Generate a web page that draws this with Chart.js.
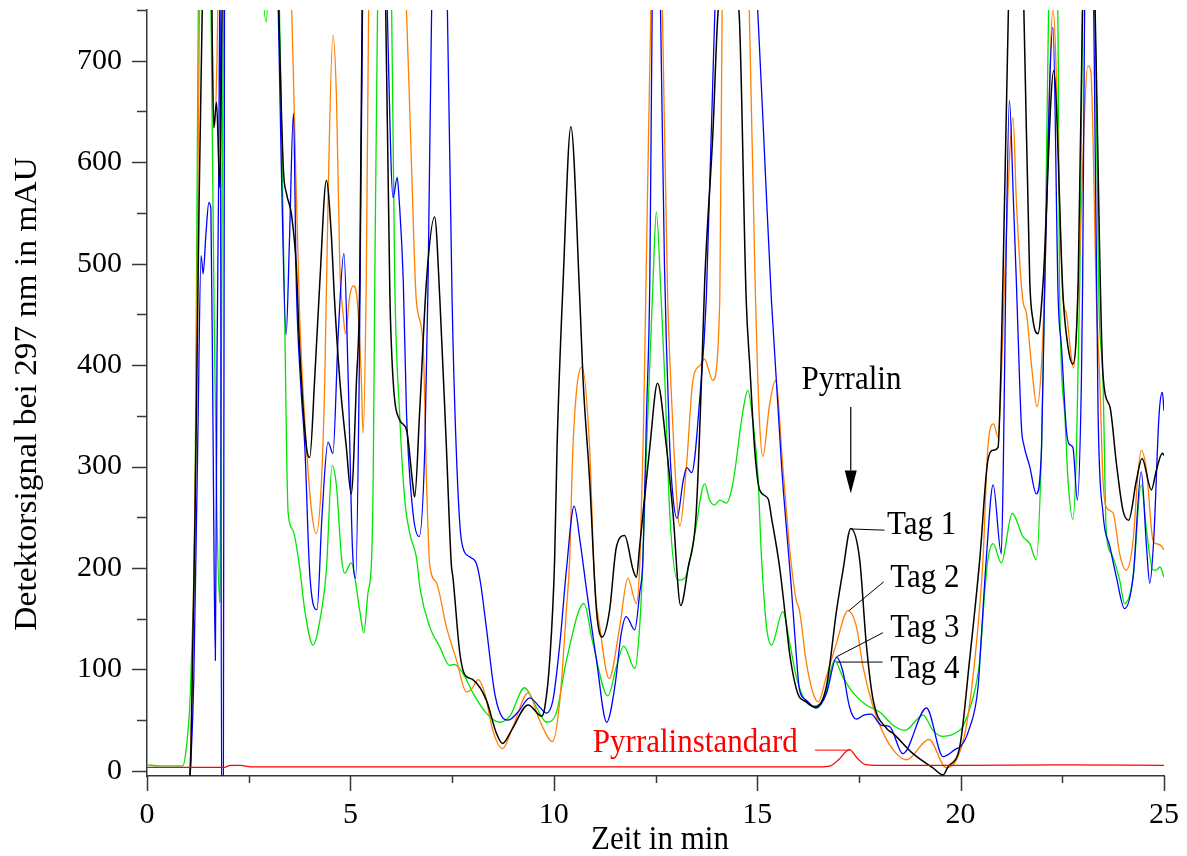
<!DOCTYPE html>
<html lang="de">
<head>
<meta charset="utf-8">
<title>Pyrralin – Chromatogramme</title>
<script src="https://cdn.jsdelivr.net/npm/chart.js@4.4.1/dist/chart.umd.min.js"></script>
<style>
  html, body { margin: 0; padding: 0; background: #fff; }
  #wrap { width: 1187px; height: 856px; }
</style>
</head>
<body>
<div id="wrap"><canvas id="chromChart" width="1187" height="856"></canvas></div>
<script>
// Achsen
const xTicks = [0, 2.5, 5, 7.5, 10, 12.5, 15, 17.5, 20, 22.5, 25];
const yTicks = [0, 50, 100, 150, 200, 250, 300, 350, 400, 450, 500, 550, 600, 650, 700, 750];

// Messreihen: [Zeit in min, Signal in mAU]
const tag1 = [
  [1.00,-40],[1.08,20],[1.18,250],[1.28,560],[1.37,780],[1.48,1000],[1.58,800],[1.64,634],[1.71,659],[1.79,575],
  [1.86,800],[2.3,1500],[3.0,1200],[3.2,820],[3.35,595],[3.43,569],[3.55,549],[3.67,497],[3.75,418],[3.92,319],
  [4.0,309],[4.12,385],[4.25,483],[4.41,582],[4.53,529],[4.61,464],[4.74,385],[4.9,319],[5.02,273],[5.15,385],
  [5.23,483],[5.3,800],[5.55,1200],[5.85,800],[5.97,470],[6.05,385],[6.21,346],[6.38,336],[6.54,280],[6.58,270],
  [6.7,352],[6.87,483],[7.07,546],[7.2,464],[7.36,319],[7.48,204],[7.52,191],[7.69,116],[7.81,95],[8.01,90],
  [8.34,70],[8.59,37],[8.74,27],[8.96,40],[9.37,65],[9.7,54],[9.78,63],[9.9,109],[10.02,208],[10.08,319],
  [10.23,483],[10.42,635],[10.64,464],[10.72,385],[10.88,287],[11.05,158],[11.19,132],[11.37,158],[11.54,221],[11.74,232],
  [11.95,198],[12.03,191],[12.11,221],[12.36,319],[12.55,382],[12.77,319],[12.93,254],[13.12,163],[13.3,200],[13.5,254],
  [13.63,385],[13.71,483],[13.91,628],[14.04,749],[14.3,790],[14.55,750],[14.73,464],[14.82,398],[14.94,316],[15.06,277],
  [15.27,268],[15.35,250],[15.55,201],[15.7,150],[15.8,115],[16.0,76],[16.21,68],[16.41,63],[16.7,83],[16.95,158],
  [17.11,198],[17.3,239],[17.52,208],[17.68,126],[17.85,70],[18.18,42],[18.34,37],[18.83,17],[19.32,3],[19.57,-4],
  [19.69,4],[19.98,24],[20.22,109],[20.47,208],[20.67,306],[20.8,316],[20.92,319],[21.04,483],[21.18,760],[21.35,1000],
  [21.55,760],[21.7,483],[21.78,444],[21.9,431],[22.03,483],[22.29,690],[22.52,467],[22.64,418],[22.76,401],[22.89,483],
  [23.0,760],[23.12,1000],[23.3,760],[23.5,391],[23.67,359],[23.83,303],[23.99,257],[24.13,247],[24.32,286],[24.46,308],
  [24.69,277],[24.81,296],[24.96,313],[25.0,311]
];

const tag2 = [
  [1.00,-40],[1.1,60],[1.2,330],[1.3,800],[1.45,1050],[1.58,760],[1.66,634],[1.72,700],[1.8,900],[2.3,1500],
  [3.0,1300],[3.4,900],[3.55,760],[3.62,650],[3.75,451],[3.92,319],[4.05,255],[4.16,234],[4.29,287],[4.37,385],
  [4.45,562],[4.57,725],[4.66,660],[4.74,497],[4.82,451],[4.88,431],[4.98,467],[5.07,478],[5.16,467],[5.27,385],
  [5.31,333],[5.39,483],[5.45,760],[5.8,1300],[6.2,900],[6.37,760],[6.5,600],[6.62,464],[6.79,418],[6.87,287],
  [6.95,203],[7.11,186],[7.36,142],[7.61,109],[7.85,78],[7.97,80],[8.14,90],[8.3,77],[8.5,40],[8.74,22],
  [9.0,44],[9.37,77],[9.65,50],[9.97,29],[10.15,70],[10.31,159],[10.39,208],[10.47,319],[10.69,398],[10.88,319],
  [11.0,188],[11.13,142],[11.36,91],[11.62,142],[11.82,190],[12.03,165],[12.12,210],[12.2,330],[12.3,560],[12.4,780],
  [12.55,1000],[12.67,750],[12.8,464],[12.88,380],[12.95,319],[13.1,241],[13.26,300],[13.42,385],[13.6,400],[13.7,406],
  [13.91,385],[14.08,464],[14.14,760],[14.45,1200],[14.8,760],[14.95,480],[15.05,350],[15.14,310],[15.3,360],[15.45,385],
  [15.63,300],[15.8,218],[15.96,168],[16.04,158],[16.2,109],[16.37,77],[16.5,68],[16.7,93],[16.95,126],[17.23,158],
  [17.44,142],[17.6,103],[17.85,63],[18.1,37],[18.42,17],[18.67,11],[19.22,31],[19.65,3],[19.9,11],[20.14,44],
  [20.39,126],[20.55,208],[20.67,319],[20.81,342],[20.92,329],[21.0,385],[21.08,483],[21.29,644],[21.37,562],[21.53,464],
  [21.62,451],[21.74,401],[21.88,359],[21.99,401],[22.07,483],[22.27,750],[22.52,464],[22.6,451],[22.72,408],[22.78,397],
  [22.9,483],[23.13,695],[23.2,690],[23.34,464],[23.42,385],[23.5,287],[23.58,260],[23.75,254],[23.91,214],[24.07,198],
  [24.24,227],[24.36,293],[24.44,316],[24.57,296],[24.73,227],[24.81,224],[24.93,222],[25.0,218]
];

const tag3 = [
  [1.00,-40],[1.08,10],[1.15,90],[1.25,330],[1.33,508],[1.38,490],[1.45,530],[1.52,560],[1.57,555],[1.62,350],
  [1.68,109],[1.72,400],[1.76,575],[1.8,800],[1.835,-60],[1.875,-60],[1.91,900],[2.5,1500],[3.1,1000],[3.3,600],
  [3.42,430],[3.5,520],[3.6,648],[3.67,480],[3.78,380],[3.88,319],[4.0,195],[4.18,159],[4.3,250],[4.45,324],
  [4.57,313],[4.7,430],[4.84,510],[4.95,380],[5.05,220],[5.13,190],[5.22,400],[5.3,760],[5.6,1300],[5.9,760],
  [6.05,565],[6.15,585],[6.2,562],[6.3,483],[6.38,352],[6.54,254],[6.69,231],[6.83,319],[6.91,483],[7.0,760],
  [7.2,1000],[7.38,760],[7.5,464],[7.6,319],[7.73,227],[7.93,211],[8.1,204],[8.2,185],[8.34,142],[8.55,76],
  [8.75,52],[8.87,50],[9.12,58],[9.41,72],[9.65,63],[9.82,57],[9.98,70],[10.15,126],[10.31,198],[10.5,261],
  [10.65,225],[10.8,180],[11.05,109],[11.3,48],[11.5,83],[11.66,136],[11.78,152],[11.99,139],[12.11,175],[12.19,208],
  [12.28,352],[12.36,483],[12.42,760],[12.52,1000],[12.62,760],[12.72,500],[12.77,418],[12.85,319],[12.93,270],[13.03,249],
  [13.18,286],[13.27,299],[13.39,294],[13.59,368],[13.75,467],[13.96,750],[14.4,1100],[15.0,760],[15.2,590],[15.35,464],
  [15.6,300],[15.84,180],[15.95,120],[16.04,80],[16.2,70],[16.45,62],[16.7,76],[16.95,112],[17.1,99],[17.27,63],
  [17.44,51],[17.62,55],[17.8,56],[18.05,45],[18.25,44],[18.58,17],[19.16,62],[19.57,14],[19.9,22],[20.0,24],
  [20.2,40],[20.43,83],[20.5,126],[20.63,208],[20.8,282],[21.0,214],[21.05,300],[21.11,483],[21.2,661],[21.3,560],
  [21.37,483],[21.45,385],[21.5,336],[21.55,322],[21.7,300],[21.86,273],[21.99,319],[22.07,483],[22.27,733],[22.4,464],
  [22.48,418],[22.6,336],[22.67,322],[22.76,319],[22.87,267],[22.97,385],[23.0,483],[23.05,760],[23.15,1000],[23.27,760],
  [23.38,352],[23.5,254],[23.67,221],[23.83,191],[24.03,160],[24.24,191],[24.44,295],[24.57,221],[24.65,185],[24.75,230],
  [24.88,352],[24.96,373],[25.0,355]
];

const tag4 = [
  [0,6],[0.3,5],[0.6,5],[0.88,5],[0.97,24],[1.05,63],[1.12,142],[1.17,208],[1.22,500],[1.27,800],
  [1.42,1100],[1.56,800],[1.65,450],[1.72,250],[1.79,166],[1.84,500],[1.9,900],[2.4,1500],[2.82,800],[2.93,738],
  [3.02,820],[3.15,900],[3.28,700],[3.39,434],[3.43,319],[3.47,254],[3.59,237],[3.75,201],[3.88,158],[4.08,124],
  [4.29,158],[4.41,198],[4.55,301],[4.66,280],[4.78,211],[4.86,195],[5.02,205],[5.23,158],[5.33,136],[5.43,175],
  [5.52,208],[5.56,287],[5.6,483],[5.68,800],[5.85,1000],[6.0,800],[6.09,483],[6.21,352],[6.33,270],[6.46,234],
  [6.62,211],[6.72,178],[6.95,142],[7.2,122],[7.44,104],[7.56,105],[7.77,96],[8.01,77],[8.34,57],[8.67,48],
  [8.92,54],[9.28,82],[9.57,63],[9.82,48],[10.06,57],[10.31,109],[10.74,165],[10.96,126],[11.33,74],[11.54,103],
  [11.72,123],[11.99,101],[12.11,142],[12.19,208],[12.28,319],[12.44,483],[12.52,551],[12.64,464],[12.73,385],[12.85,254],
  [13.05,188],[13.22,190],[13.45,230],[13.71,283],[13.83,267],[13.95,262],[14.08,267],[14.24,264],[14.4,283],[14.65,355],
  [14.77,375],[14.9,342],[15.02,290],[15.1,215],[15.23,142],[15.35,124],[15.63,157],[15.8,126],[15.96,93],[16.17,70],
  [16.37,64],[16.66,73],[16.9,109],[17.1,93],[17.36,77],[17.68,65],[18.01,58],[18.34,45],[18.63,40],[19.08,55],
  [19.32,40],[19.57,34],[19.98,40],[20.06,44],[20.27,67],[20.47,109],[20.59,175],[20.67,208],[20.8,224],[21.0,205],
  [21.27,254],[21.53,231],[21.7,224],[21.86,208],[21.99,319],[22.07,483],[22.18,800],[22.3,1000],[22.4,700],[22.43,483],
  [22.56,352],[22.64,287],[22.76,248],[22.85,319],[22.93,483],[23.0,760],[23.15,1100],[23.3,760],[23.4,464],[23.5,385],
  [23.58,237],[23.71,214],[23.91,188],[24.03,165],[24.24,191],[24.44,282],[24.57,237],[24.73,198],[24.81,198],[24.9,201],
  [25.0,191]
];

const standard = [
  [0,3.5],[1.9,3.5],[2.05,5.5],[2.3,5.5],[2.55,4],[5,4],[10,4],[15,4],[16.5,4],[16.8,5],
  [17.0,11],[17.27,21],[17.45,13],[17.65,6.5],[18,5.5],[20,5.5],[22.5,6],[25,5.5]
];

const schrift = '"Liberation Serif", "Times New Roman", serif';
const achsenFarbe = '#383838';

function punkte(reihe) {
  return reihe.map(([x, y]) => ({ x, y }));
}

// feste Ränder, damit die Zeichenfläche genau sitzt
function ohneRand(s) {
  s.paddingLeft = 0;
  s.paddingRight = 0;
  s.paddingTop = 0;
  s.paddingBottom = 0;
}

// Schrift leicht in die Höhe gezogen
function text(ctx, str, x, y, streckung = 1.08) {
  ctx.save();
  ctx.translate(x, y);
  ctx.scale(1, streckung);
  ctx.fillText(str, 0, 0);
  ctx.restore();
}

// Teilstriche, Achsentitel und Beschriftungen der Peaks
const beschriftung = {
  id: 'beschriftung',
  afterDraw(chart) {
    const { ctx, chartArea: area, scales: { x, y } } = chart;
    const px = (t) => x.getPixelForValue(t);
    const py = (v) => y.getPixelForValue(v);

    ctx.save();
    ctx.strokeStyle = achsenFarbe;
    ctx.lineWidth = 1.5;
    ctx.beginPath();
    x.ticks.forEach((t) => {
      const len = t.value % 5 === 0 ? 15 : 7;
      const xp = Math.round(px(t.value)) + 0.5;
      ctx.moveTo(xp, area.bottom);
      ctx.lineTo(xp, area.bottom + len);
    });
    y.ticks.forEach((t) => {
      const len = t.value % 100 === 0 ? 15 : 10;
      const yp = Math.round(py(t.value)) + 0.5;
      ctx.moveTo(area.left - len, yp);
      ctx.lineTo(area.left, yp);
    });
    ctx.stroke();

    ctx.fillStyle = '#000';
    ctx.font = '31px ' + schrift;
    ctx.textBaseline = 'alphabetic';

    // Achsentitel
    ctx.textAlign = 'center';
    text(ctx, 'Zeit in min', 660, 849);
    ctx.save();
    ctx.translate(36, (area.top + area.bottom) / 2 + 1);
    ctx.rotate(-Math.PI / 2);
    ctx.scale(1.08, 1);
    ctx.fillText('Detektorsignal bei 297 nm in mAU', 0, 0);
    ctx.restore();

    // Pfeil auf den Pyrralin-Peak
    ctx.textAlign = 'left';
    text(ctx, 'Pyrralin', px(16.09), py(376));
    const ax = px(17.3);
    ctx.strokeStyle = '#000';
    ctx.lineWidth = 1.2;
    ctx.beginPath();
    ctx.moveTo(ax, py(358.7));
    ctx.lineTo(ax, py(296));
    ctx.stroke();
    ctx.beginPath();
    ctx.moveTo(ax - 6, py(296));
    ctx.lineTo(ax + 6, py(296));
    ctx.lineTo(ax, py(273.4));
    ctx.closePath();
    ctx.fill();

    // Tag-Beschriftungen mit Hinweislinien
    const hinweise = [
      { text: 'Tag 1', von: [17.30, 238.5], bis: [18.13, 237.3], pos: [18.19, 234] },
      { text: 'Tag 2', von: [17.25, 157.8], bis: [18.11, 186.4], pos: [18.27, 181.5] },
      { text: 'Tag 3', von: [16.95, 112.5], bis: [18.09, 136.2], pos: [18.27, 131.6] },
      { text: 'Tag 4', von: [16.95, 107.3], bis: [18.08, 107.3], pos: [18.27, 91.3] }
    ];
    ctx.lineWidth = 1;
    hinweise.forEach((h) => {
      ctx.beginPath();
      ctx.moveTo(px(h.von[0]), py(h.von[1]));
      ctx.lineTo(px(h.bis[0]), py(h.bis[1]));
      ctx.stroke();
      text(ctx, h.text, px(h.pos[0]), py(h.pos[1]));
    });

    // Standard
    ctx.fillStyle = '#ff0000';
    ctx.strokeStyle = '#ff0000';
    text(ctx, 'Pyrralinstandard', px(10.96), py(19));
    ctx.beginPath();
    ctx.moveTo(px(16.42), py(20.5));
    ctx.lineTo(px(17.27), py(20.5));
    ctx.stroke();
    ctx.restore();
  }
};

const ctx = document.getElementById('chromChart').getContext('2d');
new Chart(ctx, {
  type: 'line',
  data: {
    datasets: [
      { label: 'Pyrralinstandard', data: punkte(standard), borderColor: '#ff0000', borderWidth: 1.2 },
      { label: 'Tag 1', data: punkte(tag1), borderColor: '#000000', borderWidth: 1.5 },
      { label: 'Tag 3', data: punkte(tag3), borderColor: '#0000ff', borderWidth: 1.3 },
      { label: 'Tag 2', data: punkte(tag2), borderColor: '#ff7f00', borderWidth: 1.3 },
      { label: 'Tag 4', data: punkte(tag4), borderColor: '#00e600', borderWidth: 1.3 }
    ]
  },
  options: {
    responsive: false,
    animation: false,
    events: [],
    layout: { padding: { top: 10, right: 23, left: 0, bottom: 0 } },
    elements: {
      point: { radius: 0 },
      line: { cubicInterpolationMode: 'monotone', fill: false }
    },
    plugins: {
      legend: { display: false },
      tooltip: { enabled: false }
    },
    scales: {
      x: {
        type: 'linear',
        min: 0,
        max: 25,
        afterFit: (s) => { s.height = 80; ohneRand(s); },
        afterBuildTicks: (s) => { s.ticks = xTicks.map((v) => ({ value: v })); },
        grid: { display: false, drawTicks: false },
        border: { display: true, color: achsenFarbe, width: 1.5 },
        ticks: {
          autoSkip: false,
          maxRotation: 0,
          padding: 21,
          color: '#000',
          font: { family: schrift, size: 30 },
          callback: (v) => (v % 5 === 0 ? String(v) : '')
        }
      },
      y: {
        min: -5,
        max: 750,
        afterFit: (s) => { s.width = 147; ohneRand(s); },
        afterBuildTicks: (s) => { s.ticks = yTicks.map((v) => ({ value: v })); },
        grid: { display: false, drawTicks: false },
        border: { display: true, color: achsenFarbe, width: 1.5 },
        ticks: {
          autoSkip: false,
          padding: 25,
          color: '#000',
          font: { family: schrift, size: 30 },
          callback: (v) => (v % 100 === 0 ? String(v) : '')
        }
      }
    }
  },
  plugins: [beschriftung]
});
</script>
</body>
</html>
